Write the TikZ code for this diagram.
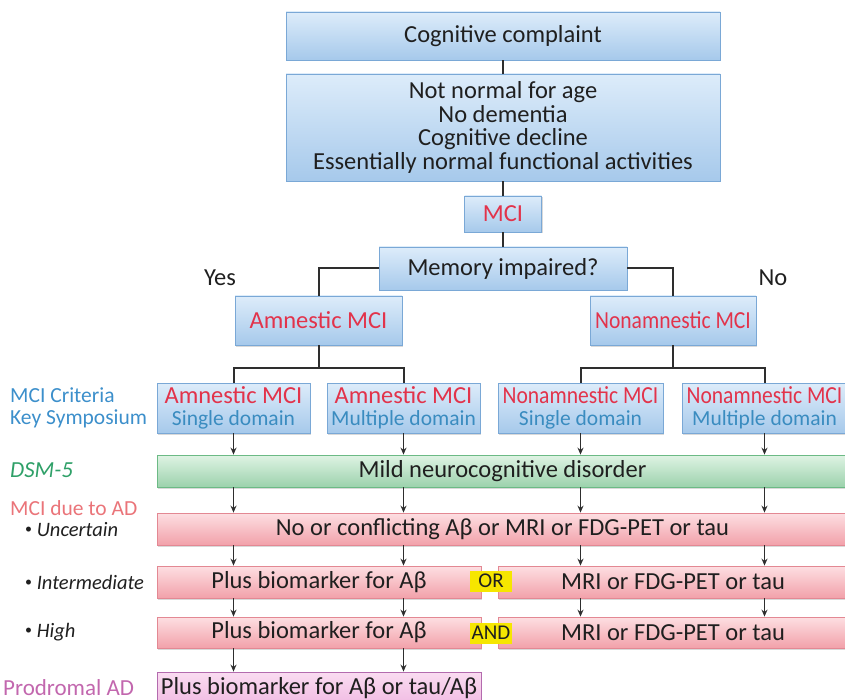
\documentclass[tikz,border=0pt]{standalone}
\usepackage{fontspec}
\usepackage{graphicx}
\setmainfont{Carlito}
\usetikzlibrary{arrows.meta,shadows}
\definecolor{bluetop}{HTML}{DDECFA}
\definecolor{bluebot}{HTML}{A6C9EB}
\definecolor{blueedge}{HTML}{7AA8D6}
\definecolor{greentop}{HTML}{DFF3E4}
\definecolor{greenbot}{HTML}{9CD2AC}
\definecolor{greenedge}{HTML}{6CBA85}
\definecolor{pinktop}{HTML}{FDDFE2}
\definecolor{pinkbot}{HTML}{F2A1AA}
\definecolor{pinkedge}{HTML}{E38893}
\definecolor{prodtop}{HTML}{FADCF1}
\definecolor{prodbot}{HTML}{F1BCE3}
\definecolor{prodedge}{HTML}{B36BAE}
\definecolor{mcired}{HTML}{E2334B}
\definecolor{domblue}{HTML}{3A8CC0}
\definecolor{critblue}{HTML}{3C8FCB}
\definecolor{dsmgreen}{HTML}{2FA068}
\definecolor{adred}{HTML}{EA7479}
\definecolor{prodpink}{HTML}{C267AE}
\definecolor{hilite}{HTML}{F6E600}
\definecolor{linkgray}{HTML}{2E2E2E}
\newcommand{\nonmci}{\scalebox{0.88}[1]{Nonamnestic MCI}}
\newcommand{\subhead}[2]{\textcolor{mcired}{#1}\\[-1pt]{\fontsize{21.5}{22}\selectfont\textcolor{domblue}{#2}}}
\newcommand{\bul}{\raisebox{3pt}{\upshape\fontsize{14}{14}\selectfont•}\ }
\begin{document}
\begin{tikzpicture}[x=1pt,y=-1pt,
    every node/.style={font=\fontsize{24.5}{23.5}\selectfont, inner sep=0pt, text=black!88},
    box/.style={draw, line width=0.8pt, align=center,
      drop shadow={shadow xshift=1.2pt,shadow yshift=-1.5pt,opacity=0.3}},
    bluebox/.style={box, draw=blueedge, top color=bluetop, bottom color=bluebot},
    greenbox/.style={box, draw=greenedge, top color=greentop, bottom color=greenbot},
    pinkbox/.style={box, draw=pinkedge, top color=pinktop, bottom color=pinkbot},
    prodbox/.style={box, draw=prodedge, top color=prodtop, bottom color=prodbot},
    orbox/.style={fill=hilite, minimum width=42, minimum height=21, font=\fontsize{21}{21}\selectfont},
    link/.style={draw=linkgray, line width=2pt},
    arr/.style={draw=linkgray, line width=1.4pt, -{Stealth[length=7pt,width=6pt]}},
    lab/.style={anchor=west, align=left, font=\fontsize{21.5}{21.5}\selectfont},
    sublab/.style={anchor=west, font=\fontsize{20.5}{20.5}\selectfont\itshape}]
  \useasboundingbox (0,0) rectangle (845,700);

  \node[bluebox, minimum width=434, minimum height=48] (cc) at (503,36) {Cognitive complaint};
  \node[bluebox, minimum width=434, minimum height=107] (crit) at (503,127.5)
    {Not normal for age\\No dementia\\Cognitive decline\\Essentially normal functional activities};
  \node[bluebox, minimum width=77, minimum height=36, text=mcired] (mci) at (503,214) {MCI};
  \node[bluebox, minimum width=248, minimum height=43] (mem) at (503,268.5) {Memory impaired?};
  \node (yes) at (220,278) {Yes};
  \node (no) at (773,278) {No};
  \node[bluebox, minimum width=167, minimum height=49, text=mcired] (amn) at (318.5,320.5) {Amnestic MCI};
  \node[bluebox, minimum width=166, minimum height=49, text=mcired] (non) at (673,320.5) {\nonmci};

  \node[bluebox, minimum width=153, minimum height=50] (a1) at (233.5,408) {\subhead{Amnestic MCI}{Single domain}};
  \node[bluebox, minimum width=153, minimum height=50] (a2) at (403.5,408) {\subhead{Amnestic MCI}{Multiple domain}};
  \node[bluebox, minimum width=165, minimum height=50] (n1) at (580.5,408) {\subhead{\nonmci}{Single domain}};
  \node[bluebox, minimum width=165, minimum height=50] (n2) at (764.5,408) {\subhead{\nonmci}{Multiple domain}};

  \node[greenbox, minimum width=691, minimum height=32] (dsm) at (502.5,471) {Mild neurocognitive disorder};
  \node[pinkbox, minimum width=691, minimum height=32] (unc) at (502.5,529) {No or conflicting Aβ or MRI or FDG-PET or tau};
  \node[pinkbox, minimum width=324, minimum height=32] (int1) at (319,582) {Plus biomarker for Aβ};
  \node[pinkbox, minimum width=350, minimum height=32] (int2) at (673,582) {MRI or FDG-PET or tau};
  \node[orbox] (or) at (491,581) {OR};
  \node[pinkbox, minimum width=324, minimum height=31] (high1) at (319,632.5) {Plus biomarker for Aβ};
  \node[pinkbox, minimum width=350, minimum height=31] (high2) at (673,632.5) {MRI or FDG-PET or tau};
  \node[orbox] (and) at (491,633) {AND};
  \node[prodbox, minimum width=324, minimum height=32] (prod) at (319,688) {Plus biomarker for Aβ or tau/Aβ};

  \node[lab, text=critblue] (keysym) at (10,408) {MCI Criteria\\Key Symposium};
  \node[lab, text=dsmgreen, font=\fontsize{23}{23}\selectfont\itshape] (dsmlab) at (10,470) {DSM-5};
  \node[lab, text=adred] (adlab) at (10,508) {MCI due to AD};
  \node[sublab] (unclab) at (25,530) {\bul Uncertain};
  \node[sublab] (intlab) at (25,582) {\bul Intermediate};
  \node[sublab] (highlab) at (25,632) {\bul High};
  \node[lab, text=prodpink, font=\fontsize{23}{23}\selectfont] (prodlab) at (3,688) {Prodromal AD};

  \draw[link] (cc) -- (crit);
  \draw[link] (crit) -- (mci);
  \draw[link] (mci) -- (mem);
  \draw[link] (mem.west) -| (amn.north);
  \draw[link] (mem.east) -| (non.north);
  \draw[link] (amn.south) -- ++(0,23) coordinate (amnj);
  \draw[link] (a1.north) |- (amnj) -| (a2.north);
  \draw[link] (non.south) -- ++(0,23) coordinate (nonj);
  \draw[link] (n1.north) |- (nonj) -| (n2.north);

  \foreach \c in {a1,a2,n1,n2} {
    \draw[arr] (\c.south) -- (\c.south |- dsm.north);
    \draw[arr] (\c.south |- dsm.south) -- (\c.south |- unc.north);
    \draw[arr] (\c.south |- unc.south) -- (\c.south |- int1.north);
    \draw[arr] (\c.south |- int1.south) -- (\c.south |- high1.north);
  }
  \foreach \c in {a1,a2}
    \draw[arr] (\c.south |- high1.south) -- (\c.south |- prod.north);
\end{tikzpicture}
\end{document}
